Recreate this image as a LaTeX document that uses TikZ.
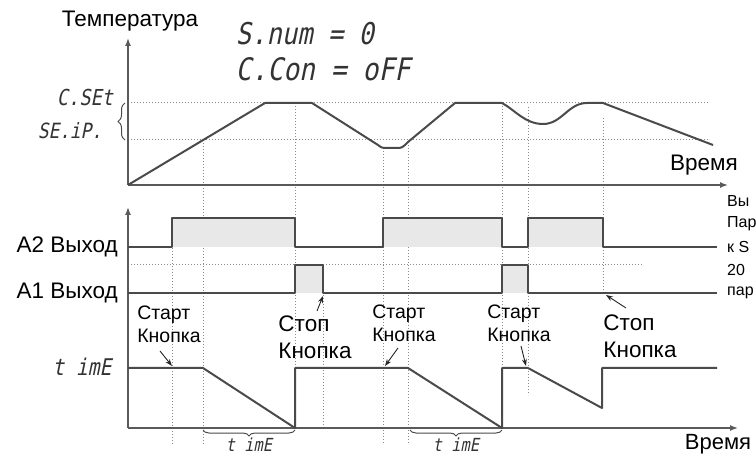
\documentclass[tikz,border=0pt]{standalone}
\usepackage{fontspec}
\setmainfont{Liberation Sans}
\newfontfamily\segfont[FakeSlant=0.2, FakeStretch=0.85]{DejaVu Sans Mono}
\usetikzlibrary{decorations.pathreplacing,arrows.meta}
\definecolor{siggray}{HTML}{4A4A4A}
\definecolor{axisgray}{HTML}{5A5A5A}
\definecolor{dotgray}{HTML}{8A8A8A}
\definecolor{fillgray}{HTML}{E8E8E8}
\definecolor{segcol}{HTML}{333333}
\begin{document}
\begin{tikzpicture}[x=1pt,y=-1pt,
  axis/.style={draw=axisgray, line width=1.4pt, -{Latex[length=8pt,width=6pt]}},
  sig/.style={draw=siggray, line width=2pt, line join=round},
  guide/.style={draw=dotgray, line width=1pt, dotted},
  pulse/.style={fill=fillgray, draw=none},
  lbl/.style={font=\fontsize{22.5}{26}\selectfont, inner sep=0pt},
  btn/.style={font=\fontsize{19.5}{23}\selectfont, inner sep=0pt, align=left},
  stopbtn/.style={font=\fontsize{22.5}{27}\selectfont, inner sep=0pt, align=left},
  side/.style={font=\fontsize{16}{18}\selectfont, inner sep=0pt, anchor=west},
  seg/.style={font=\segfont\fontsize{#1}{#1}\selectfont, text=segcol, inner sep=0pt},
  pointer/.style={draw=black!85, line width=0.9pt, -{Stealth[length=7pt,width=5pt]}},
  bracestyle/.style={draw=siggray, line width=1pt, decorate, decoration={brace, amplitude=#1}}
]
\useasboundingbox (0,0) rectangle (756,457);

% ---------- guides ----------
\draw[guide] (128,103) -- (710,103);
\draw[guide] (128,140) -- (710,140);
\draw[guide] (128,265) -- (643,265);
\draw[guide] (172,218) -- (172,445);
\draw[guide] (203,140) -- (203,445);
\draw[guide] (295,103) -- (295,428);
\draw[guide] (323,265) -- (323,428);
\draw[guide] (383,148) -- (383,443);
\draw[guide] (408,142) -- (408,443);
\draw[guide] (502,103) -- (502,428);
\draw[guide] (528,107) -- (528,395);
\draw[guide] (603,118) -- (603,293);

% ---------- fills ----------
\fill[pulse] (172,218) rectangle (295,247);
\fill[pulse] (383,218) rectangle (502,247);
\fill[pulse] (528,218) rectangle (603,247);
\fill[pulse] (295,265) rectangle (323,293);
\fill[pulse] (502,265) rectangle (528,293);

% ---------- axes ----------
\draw[axis] (128,185) -- (128,38);
\draw[axis] (128,185) -- (728,185);
\draw[axis] (128,428) -- (128,207);
\draw[axis] (128,428) -- (738,428);

% ---------- temperature curve ----------
\draw[sig] (128,185) -- (265,103) -- (312,103) -- (378,145)
  .. controls (382,148) .. (388,148) -- (396,148)
  .. controls (402,148) .. (408,142) -- (455,103) -- (502,103)
  .. controls (515,110) and (525,124) .. (543,124)
  .. controls (562,124) and (568,103) .. (587,103) -- (603,103) -- (713,145);

% ---------- A2 / A1 ----------
\draw[sig] (128,247) -| (172,218) -| (295,247) -| (383,218) -| (502,247)
  -| (528,218) -| (603,247) -- (717,247);
\draw[sig] (128,293) -| (295,265) -| (323,293) -| (502,265) -| (528,293) -- (717,293);

% ---------- timer ----------
\draw[sig] (128,368) -- (203,368) -- (295,428) -- (295,368) -- (408,368)
  -- (502,428) -- (502,368) -- (528,368) -- (602,408) -- (602,368) -- (717,368);

% ---------- braces ----------
\draw[bracestyle=7pt] (125,140) -- (125,103);
\draw[bracestyle=6pt] (295,430) -- (203,430);
\draw[bracestyle=6pt] (502,430) -- (410,430);

% ---------- texts ----------
\node[lbl] (tlab) at (130,21) {Температура};
\node[seg=30] (snum) at (305,34) {S.num = 0};
\node[seg=31] (ccon) at (323,69) {C.Con = oFF};
\node[seg=22] (cset) at (85,97) {C.SEt};
\node[seg=21] (setp) at (70,131) {SE.iP.};
\node[lbl] (vr1) at (704,165) {Время};
\node[lbl, anchor=east] (a2) at (118,247) {A2 Выход};
\node[lbl, anchor=east] (a1) at (118,293) {A1 Выход};
\node[seg=23] (tim) at (82,367) {t imE};
\node[seg=18] (tb1) at (249,445) {t imE};
\node[seg=18] (tb2) at (456,445) {t imE};
\node[lbl, font=\fontsize{22}{26}\selectfont] (vr2) at (718,444) {Время};

\node[side] (r1) at (727,201) {Вы};
\node[side] (r2) at (727,224) {Пар};
\node[side] (r3) at (727,247) {к S};
\node[side] (r4) at (727,270) {20};
\node[side] (r5) at (727,293) {пар};

\node[btn] (s1) at (169,324) {Старт\\Кнопка};
\node[stopbtn] (p1) at (315,337) {Стоп\\Кнопка};
\node[btn] (s2) at (404,323) {Старт\\Кнопка};
\node[btn] (s3) at (519,323) {Старт\\Кнопка};
\node[stopbtn] (p2) at (640,336) {Стоп\\Кнопка};

% ---------- pointers ----------
\coordinate (s1a) at (160,351);
\coordinate (s1b) at (172,366);
\coordinate (p1a) at (317,311);
\coordinate (p1b) at (323,296);
\coordinate (s2a) at (398,348);
\coordinate (s2b) at (385,366);
\coordinate (s3a) at (521,346);
\coordinate (s3b) at (526,366);
\coordinate (p2a) at (626,308);
\coordinate (p2b) at (606,295);
\draw[pointer] (s1a) -- (s1b);
\draw[pointer] (p1a) -- (p1b);
\draw[pointer] (s2a) -- (s2b);
\draw[pointer] (s3a) -- (s3b);
\draw[pointer] (p2a) -- (p2b);
\end{tikzpicture}
\end{document}
